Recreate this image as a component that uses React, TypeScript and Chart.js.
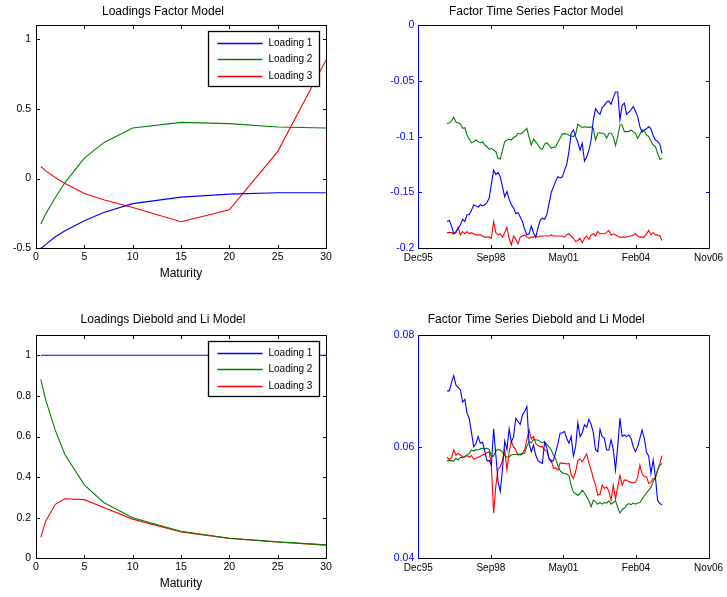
import React, { useEffect, useRef } from "react";
import { Chart, registerables } from "chart.js";

Chart.register(...registerables);

const FONT = '"Liberation Sans", Arial, Helvetica, sans-serif';

// ---------- Loadings (maturity in years) ----------
const MATURITIES = [0.5, 1, 2, 3, 5, 7, 10, 15, 20, 25, 30];
const MATURITY_TICKS = [0, 5, 10, 15, 20, 25, 30];

const FM_LOADING_1 = [-0.5, -0.474, -0.417, -0.374, -0.302, -0.243, -0.18, -0.133, -0.112, -0.102, -0.102];
const FM_LOADING_2 = [-0.326, -0.254, -0.136, -0.029, 0.146, 0.257, 0.362, 0.402, 0.393, 0.369, 0.362];
const FM_LOADING_3 = [0.086, 0.055, 0.007, -0.036, -0.107, -0.152, -0.207, -0.31, -0.224, 0.193, 0.848];
const FM_LOADING_TICKS = [-0.5, 0, 0.5, 1];
const FM_LOADING_TICK_LABELS = ["-0.5", "0", "0.5", "1"];

const DL_LOADING_1 = [1, 1, 1, 1, 1, 1, 1, 1, 1, 1, 1];
const DL_LOADING_2 = [0.882, 0.78, 0.63, 0.51, 0.362, 0.275, 0.2, 0.133, 0.099, 0.081, 0.066];
const DL_LOADING_3 = [0.103, 0.183, 0.266, 0.293, 0.289, 0.25, 0.193, 0.13, 0.098, 0.08, 0.065];
const DL_LOADING_TICKS = [0, 0.2, 0.4, 0.6, 0.8, 1];
const DL_LOADING_TICK_LABELS = ["0", "0.2", "0.4", "0.6", "0.8", "1"];

// ---------- Factor time series (monthly, month index counted from Dec95 = 0) ----------
const START_MONTH = 13; // Jan 1997
const TIME_TICKS = [0, 32.75, 65.5, 98.25, 131];
const TIME_TICK_LABELS = ["Dec95", "Sep98", "May01", "Feb04", "Nov06"];

const FM_FACTOR_1 = [
  -0.176, -0.175, -0.18, -0.187, -0.185, -0.182, -0.179, -0.174, -0.176, -0.17,
  -0.17, -0.166, -0.161, -0.162, -0.163, -0.161, -0.162, -0.161, -0.159, -0.155,
  -0.142, -0.13, -0.134, -0.132, -0.136, -0.145, -0.154, -0.149, -0.156, -0.161,
  -0.164, -0.169, -0.168, -0.172, -0.176, -0.183, -0.188, -0.187, -0.18, -0.186,
  -0.19, -0.182, -0.175, -0.173, -0.174, -0.17, -0.16, -0.15, -0.145, -0.14,
  -0.136, -0.137, -0.136, -0.13, -0.125, -0.113, -0.097, -0.094, -0.1, -0.105,
  -0.112, -0.106, -0.122, -0.118, -0.112, -0.103, -0.085, -0.075, -0.078, -0.08,
  -0.074, -0.072, -0.069, -0.068, -0.071, -0.065, -0.06, -0.06, -0.085, -0.072,
  -0.07, -0.08, -0.078, -0.076, -0.073, -0.077, -0.082, -0.091, -0.096, -0.094,
  -0.093, -0.091, -0.093, -0.099, -0.103, -0.104, -0.107, -0.115,
];
const FM_FACTOR_2 = [
  -0.0881, -0.0878, -0.0857, -0.0827, -0.0869, -0.0875, -0.0887, -0.0925, -0.092, -0.0985,
  -0.1024, -0.1054, -0.1045, -0.103, -0.1045, -0.1054, -0.1045, -0.1075, -0.109, -0.1114,
  -0.1105, -0.112, -0.1134, -0.1194, -0.12, -0.112, -0.1045, -0.103, -0.1024, -0.103,
  -0.1006, -0.1, -0.097, -0.0976, -0.0965, -0.0946, -0.0925, -0.1006, -0.1075, -0.1024,
  -0.1045, -0.1075, -0.1105, -0.1114, -0.1066, -0.1054, -0.1075, -0.1105, -0.1096, -0.109,
  -0.105, -0.1015, -0.0976, -0.0973, -0.0976, -0.0985, -0.0995, -0.1, -0.098, -0.0887,
  -0.0905, -0.0917, -0.0912, -0.0915, -0.0917, -0.0912, -0.093, -0.103, -0.097, -0.0965,
  -0.097, -0.0975, -0.1015, -0.097, -0.097, -0.1, -0.108, -0.1, -0.0896, -0.0896,
  -0.0955, -0.0955, -0.0955, -0.094, -0.0955, -0.097, -0.1015, -0.098, -0.094, -0.0946,
  -0.0985, -0.1, -0.104, -0.1075, -0.109, -0.115, -0.1203, -0.1195,
];
const FM_FACTOR_3 = [
  -0.186, -0.186, -0.186, -0.187, -0.186, -0.181, -0.188, -0.185, -0.187, -0.185,
  -0.187, -0.186, -0.187, -0.188, -0.188, -0.188, -0.189, -0.19, -0.19, -0.19,
  -0.191, -0.176, -0.186, -0.188, -0.187, -0.19, -0.186, -0.181, -0.191, -0.197,
  -0.189, -0.192, -0.196, -0.19, -0.189, -0.188, -0.19, -0.191, -0.19, -0.19,
  -0.189, -0.19, -0.189, -0.189, -0.189, -0.189, -0.189, -0.188, -0.189, -0.189,
  -0.189, -0.189, -0.189, -0.19, -0.188, -0.187, -0.189, -0.191, -0.194, -0.193,
  -0.191, -0.195, -0.191, -0.189, -0.192, -0.188, -0.187, -0.189, -0.185, -0.187,
  -0.187, -0.187, -0.186, -0.184, -0.188, -0.187, -0.188, -0.189, -0.19, -0.19,
  -0.19, -0.19, -0.189, -0.189, -0.188, -0.187, -0.189, -0.19, -0.19, -0.19,
  -0.187, -0.184, -0.188, -0.186, -0.188, -0.188, -0.189, -0.193,
];
const FM_FACTOR_TICKS = [-0.2, -0.15, -0.1, -0.05, 0];
const FM_FACTOR_TICK_LABELS = ["-0.2", "-0.15", "-0.1", "-0.05", "0"];

const DL_FACTOR_1 = [
  0.07, 0.07, 0.0715, 0.0727, 0.071, 0.0706, 0.0702, 0.068, 0.0685, 0.066,
  0.065, 0.0625, 0.06, 0.0605, 0.0618, 0.0606, 0.0608, 0.0592, 0.0575, 0.0575,
  0.0567, 0.0632, 0.0585, 0.0537, 0.052, 0.056, 0.061, 0.0595, 0.0632, 0.0608,
  0.0618, 0.0651, 0.0645, 0.064, 0.0657, 0.0663, 0.0672, 0.0605, 0.0591, 0.0603,
  0.0585, 0.0575, 0.0572, 0.057, 0.0608, 0.0598, 0.0578, 0.0573, 0.0575, 0.059,
  0.0605, 0.0624, 0.0625, 0.0627, 0.0615, 0.0606, 0.0618, 0.0583, 0.06, 0.0643,
  0.0618, 0.0625, 0.0639, 0.0635, 0.0649, 0.064, 0.0625, 0.0594, 0.0591, 0.0631,
  0.0618, 0.0615, 0.0594, 0.0594, 0.0612, 0.0595, 0.0558, 0.06, 0.0651, 0.0618,
  0.0621, 0.0618, 0.0621, 0.0615, 0.06, 0.0591, 0.06, 0.0615, 0.063, 0.0615,
  0.059, 0.0583, 0.0552, 0.0576, 0.0546, 0.0504, 0.0498, 0.0496,
];
const DL_FACTOR_2 = [
  0.0575, 0.0575, 0.0575, 0.0574, 0.0579, 0.0576, 0.0581, 0.058, 0.0583, 0.0585,
  0.0588, 0.0594, 0.0592, 0.0595, 0.0594, 0.0596, 0.0597, 0.0596, 0.0597, 0.0595,
  0.0583, 0.0583, 0.0592, 0.0595, 0.0594, 0.059, 0.0584, 0.0581, 0.0582, 0.0585,
  0.0586, 0.0586, 0.0587, 0.0585, 0.0587, 0.0588, 0.0601, 0.0609, 0.0607, 0.0613,
  0.0612, 0.0612, 0.0609, 0.0607, 0.0609, 0.0604, 0.06, 0.0594, 0.0585, 0.0578,
  0.0566, 0.0557, 0.0553, 0.0552, 0.0551, 0.0548, 0.053, 0.0518, 0.0516, 0.0513,
  0.0516, 0.0522, 0.0517, 0.051, 0.0503, 0.0492, 0.0504, 0.0501, 0.0497, 0.05,
  0.0497, 0.05, 0.0499, 0.0503, 0.0497, 0.05, 0.0503, 0.0492, 0.0481, 0.0487,
  0.049, 0.0495, 0.0498, 0.0496, 0.0499, 0.0497, 0.0499, 0.05, 0.0506, 0.0512,
  0.0517, 0.0522, 0.0527, 0.0537, 0.0545, 0.0558, 0.0566, 0.057,
];
const DL_FACTOR_3 = [
  0.0581, 0.0577, 0.058, 0.0594, 0.0585, 0.0588, 0.0585, 0.0582, 0.0581, 0.0584,
  0.0581, 0.0584, 0.0578, 0.0579, 0.0581, 0.0583, 0.0585, 0.0587, 0.0589, 0.0591,
  0.0564, 0.0481, 0.053, 0.056, 0.0564, 0.0576, 0.0594, 0.0558, 0.059, 0.0609,
  0.06, 0.0594, 0.0585, 0.0587, 0.0588, 0.0594, 0.0612, 0.063, 0.0614, 0.0618,
  0.0606, 0.0602, 0.06, 0.06, 0.0594, 0.0592, 0.0579, 0.0576, 0.0561, 0.0562,
  0.0558, 0.0571, 0.057, 0.057, 0.0569, 0.057, 0.055, 0.0543, 0.0555, 0.0575,
  0.0578, 0.0573, 0.058, 0.0587, 0.0571, 0.0558, 0.0543, 0.0531, 0.0513, 0.0515,
  0.0531, 0.0525, 0.0528, 0.052, 0.0504, 0.0531, 0.0507, 0.0528, 0.0549, 0.0531,
  0.054, 0.054, 0.0537, 0.0536, 0.0535, 0.0536, 0.0545, 0.0567, 0.0552, 0.0546,
  0.0546, 0.0534, 0.0536, 0.0543, 0.0543, 0.0558, 0.057, 0.0584,
];
const DL_FACTOR_TICKS = [0.04, 0.06, 0.08];
const DL_FACTOR_TICK_LABELS = ["0.04", "0.06", "0.08"];

const LEGEND_LABELS = ["Loading 1", "Loading 2", "Loading 3"];
const COLORS = ["#0000ff", "#008000", "#ff0000"];

// ---------- plugins ----------
function makeFramePlugin(sideColor: string) {
  return {
    id: "frameBox",
    afterDraw(chart: any) {
      const { ctx, chartArea: a, scales } = chart;
      // integer pixel columns / rows of the frame
      const L = Math.round(a.left);
      const R = Math.round(a.right);
      const T = Math.round(a.top);
      const B = Math.round(a.bottom);
      const tl = 4;
      ctx.save();
      // ticks (inward)
      ctx.fillStyle = sideColor;
      for (const t of scales.y.ticks) {
        const py = Math.round(scales.y.getPixelForValue(t.value));
        ctx.fillRect(L, py, tl, 1);
        ctx.fillRect(R - tl + 1, py, tl, 1);
      }
      ctx.fillStyle = "#000000";
      for (const t of scales.x.ticks) {
        const px = Math.round(scales.x.getPixelForValue(t.value));
        ctx.fillRect(px, B - tl + 1, 1, tl);
        ctx.fillRect(px, T, 1, tl);
      }
      // frame
      ctx.fillStyle = "#000000";
      ctx.fillRect(L, T, R - L + 1, 1);
      ctx.fillRect(L, B, R - L + 1, 1);
      ctx.fillStyle = sideColor;
      ctx.fillRect(L, T, 1, B - T + 1);
      ctx.fillRect(R, T, 1, B - T + 1);
      ctx.restore();
    },
  };
}

const boxLegendPlugin = {
  id: "boxLegend",
  afterDatasetsDraw(chart: any) {
    const { ctx, chartArea: a } = chart;
    const w = 111;
    const h = 55;
    const x0 = Math.round(a.right - 7 - w) + 0.5;
    const y0 = Math.round(a.top + 5.5) + 0.5;
    ctx.save();
    ctx.fillStyle = "#ffffff";
    ctx.fillRect(x0, y0, w, h);
    ctx.strokeStyle = "#000000";
    ctx.lineWidth = 1.3;
    ctx.strokeRect(x0, y0, w, h);
    ctx.font = `10px ${FONT}`;
    ctx.textBaseline = "middle";
    ctx.textAlign = "left";
    chart.data.datasets.forEach((ds: any, i: number) => {
      const y = Math.round(y0 + 11.3 + i * 16.5) + 0.5;
      ctx.strokeStyle = ds.borderColor;
      ctx.lineWidth = 1.5;
      ctx.beginPath();
      ctx.moveTo(x0 + 9, y);
      ctx.lineTo(x0 + 54, y);
      ctx.stroke();
      ctx.fillStyle = "#000000";
      ctx.fillText(ds.label, x0 + 60, y);
    });
    ctx.restore();
  },
};

type Spec = {
  left: number;
  top: number;
  width: number;
  height: number;
  area: { l: number; t: number; r: number; b: number };
  title: string;
  titleCenter: number;
  xs: number[];
  series: number[][];
  xMin: number;
  xMax: number;
  xTicks: number[];
  xTickLabels: string[];
  xTickFont: number;
  xTickPad: number;
  xLabel?: string;
  xLabelCenter?: number;
  yMin: number;
  yMax: number;
  yTicks: number[];
  yTickLabels: string[];
  yTickFont: number;
  yTickPad: number;
  yColor: string;
  legend: boolean;
};

function buildConfig(s: Spec): any {
  const titleLH = 12 * 1.2;
  const titlePadTop = s.titleCenter - titleLH / 2;
  const titlePadBottom = s.area.t - titleLH - titlePadTop;
  const xHeight = s.height - s.area.b;
  const xLabelPad = s.xLabelCenter !== undefined ? s.height - s.xLabelCenter - titleLH / 2 : 0;
  const plugins: any[] = [makeFramePlugin(s.yColor)];
  if (s.legend) plugins.push(boxLegendPlugin);
  return {
    type: "line",
    data: {
      datasets: s.series.map((ys, i) => ({
        label: LEGEND_LABELS[i],
        data: ys.map((y, j) => ({ x: s.xs[j], y })),
        borderColor: COLORS[i],
        backgroundColor: COLORS[i],
        borderWidth: 1.1,
        pointRadius: 0,
        tension: 0,
        fill: false,
      })),
    },
    options: {
      responsive: false,
      animation: false,
      devicePixelRatio: 1,
      events: [],
      layout: { padding: { left: 0, top: 0, right: s.width - s.area.r, bottom: 0 } },
      plugins: {
        legend: { display: false },
        tooltip: { enabled: false },
        title: {
          display: true,
          text: s.title,
          color: "#000000",
          font: { family: FONT, size: 12, weight: "normal" },
          padding: { top: titlePadTop, bottom: titlePadBottom },
        },
      },
      scales: {
        x: {
          type: "linear",
          position: "bottom",
          min: s.xMin,
          max: s.xMax,
          afterBuildTicks: (sc: any) => {
            sc.ticks = s.xTicks.map((v) => ({ value: v }));
          },
          afterFit: (sc: any) => {
            sc.height = xHeight;
          },
          grid: { display: false, drawTicks: false },
          border: { display: false },
          ticks: {
            color: "#000000",
            font: { family: FONT, size: s.xTickFont },
            padding: s.xTickPad,
            maxRotation: 0,
            autoSkip: false,
            callback: (_v: any, i: number) => s.xTickLabels[i],
          },
          title: s.xLabel
            ? {
                display: true,
                text: s.xLabel,
                color: "#000000",
                font: { family: FONT, size: 12 },
                padding: { top: 0, bottom: xLabelPad },
              }
            : { display: false },
        },
        y: {
          type: "linear",
          position: "left",
          min: s.yMin,
          max: s.yMax,
          afterBuildTicks: (sc: any) => {
            sc.ticks = s.yTicks.map((v) => ({ value: v }));
          },
          afterFit: (sc: any) => {
            sc.width = s.area.l;
          },
          grid: { display: false, drawTicks: false },
          border: { display: false },
          ticks: {
            color: s.yColor,
            font: { family: FONT, size: s.yTickFont },
            padding: s.yTickPad,
            autoSkip: false,
            callback: (_v: any, i: number) => s.yTickLabels[i],
          },
        },
      },
    },
    plugins,
  };
}

const MONTHS = FM_FACTOR_1.map((_, i) => START_MONTH + i);

const SPECS: Spec[] = [
  {
    left: 0, top: 0, width: 363, height: 298,
    area: { l: 36, t: 25, r: 326, b: 248.3 },
    title: "Loadings Factor Model", titleCenter: 11.7,
    xs: MATURITIES, series: [FM_LOADING_1, FM_LOADING_2, FM_LOADING_3],
    xMin: 0, xMax: 30, xTicks: MATURITY_TICKS, xTickLabels: MATURITY_TICKS.map(String),
    xTickFont: 10.5, xTickPad: 3, xLabel: "Maturity", xLabelCenter: 274,
    yMin: -0.5, yMax: 1.1, yTicks: FM_LOADING_TICKS, yTickLabels: FM_LOADING_TICK_LABELS,
    yTickFont: 10.5, yTickPad: 5, yColor: "#000000", legend: true,
  },
  {
    left: 363, top: 0, width: 364, height: 298,
    area: { l: 55.3, t: 25, r: 346.3, b: 248.3 },
    title: "Factor Time Series Factor Model", titleCenter: 11.7,
    xs: MONTHS, series: [FM_FACTOR_1, FM_FACTOR_2, FM_FACTOR_3],
    xMin: 0, xMax: 131, xTicks: TIME_TICKS, xTickLabels: TIME_TICK_LABELS,
    xTickFont: 10, xTickPad: 4,
    yMin: -0.2, yMax: 0, yTicks: FM_FACTOR_TICKS, yTickLabels: FM_FACTOR_TICK_LABELS,
    yTickFont: 10.5, yTickPad: 4, yColor: "#0000ff", legend: false,
  },
  {
    left: 0, top: 298, width: 363, height: 299,
    area: { l: 36, t: 37, r: 326, b: 260.3 },
    title: "Loadings Diebold and Li Model", titleCenter: 22,
    xs: MATURITIES, series: [DL_LOADING_1, DL_LOADING_2, DL_LOADING_3],
    xMin: 0, xMax: 30, xTicks: MATURITY_TICKS, xTickLabels: MATURITY_TICKS.map(String),
    xTickFont: 10.5, xTickPad: 3, xLabel: "Maturity", xLabelCenter: 285.3,
    yMin: 0, yMax: 1.1, yTicks: DL_LOADING_TICKS, yTickLabels: DL_LOADING_TICK_LABELS,
    yTickFont: 10.5, yTickPad: 5, yColor: "#000000", legend: true,
  },
  {
    left: 363, top: 298, width: 364, height: 299,
    area: { l: 55.3, t: 37, r: 346.3, b: 260.3 },
    title: "Factor Time Series Diebold and Li Model", titleCenter: 22,
    xs: MONTHS, series: [DL_FACTOR_1, DL_FACTOR_2, DL_FACTOR_3],
    xMin: 0, xMax: 131, xTicks: TIME_TICKS, xTickLabels: TIME_TICK_LABELS,
    xTickFont: 10, xTickPad: 4,
    yMin: 0.04, yMax: 0.08, yTicks: DL_FACTOR_TICKS, yTickLabels: DL_FACTOR_TICK_LABELS,
    yTickFont: 10.5, yTickPad: 4, yColor: "#0000ff", legend: false,
  },
];

function ChartPanel({ spec }: { spec: Spec }) {
  const ref = useRef<HTMLCanvasElement | null>(null);
  useEffect(() => {
    if (!ref.current) return;
    const chart = new Chart(ref.current, buildConfig(spec));
    return () => chart.destroy();
  }, [spec]);
  return (
    <canvas
      ref={ref}
      width={spec.width}
      height={spec.height}
      style={{
        position: "absolute",
        left: spec.left,
        top: spec.top,
        width: spec.width,
        height: spec.height,
      }}
    />
  );
}

export default function App() {
  return (
    <div
      style={{
        position: "absolute",
        left: 0,
        top: 0,
        width: 727,
        height: 597,
        background: "#ffffff",
        overflow: "hidden",
      }}
    >
      {SPECS.map((s, i) => (
        <ChartPanel key={i} spec={s} />
      ))}
    </div>
  );
}
